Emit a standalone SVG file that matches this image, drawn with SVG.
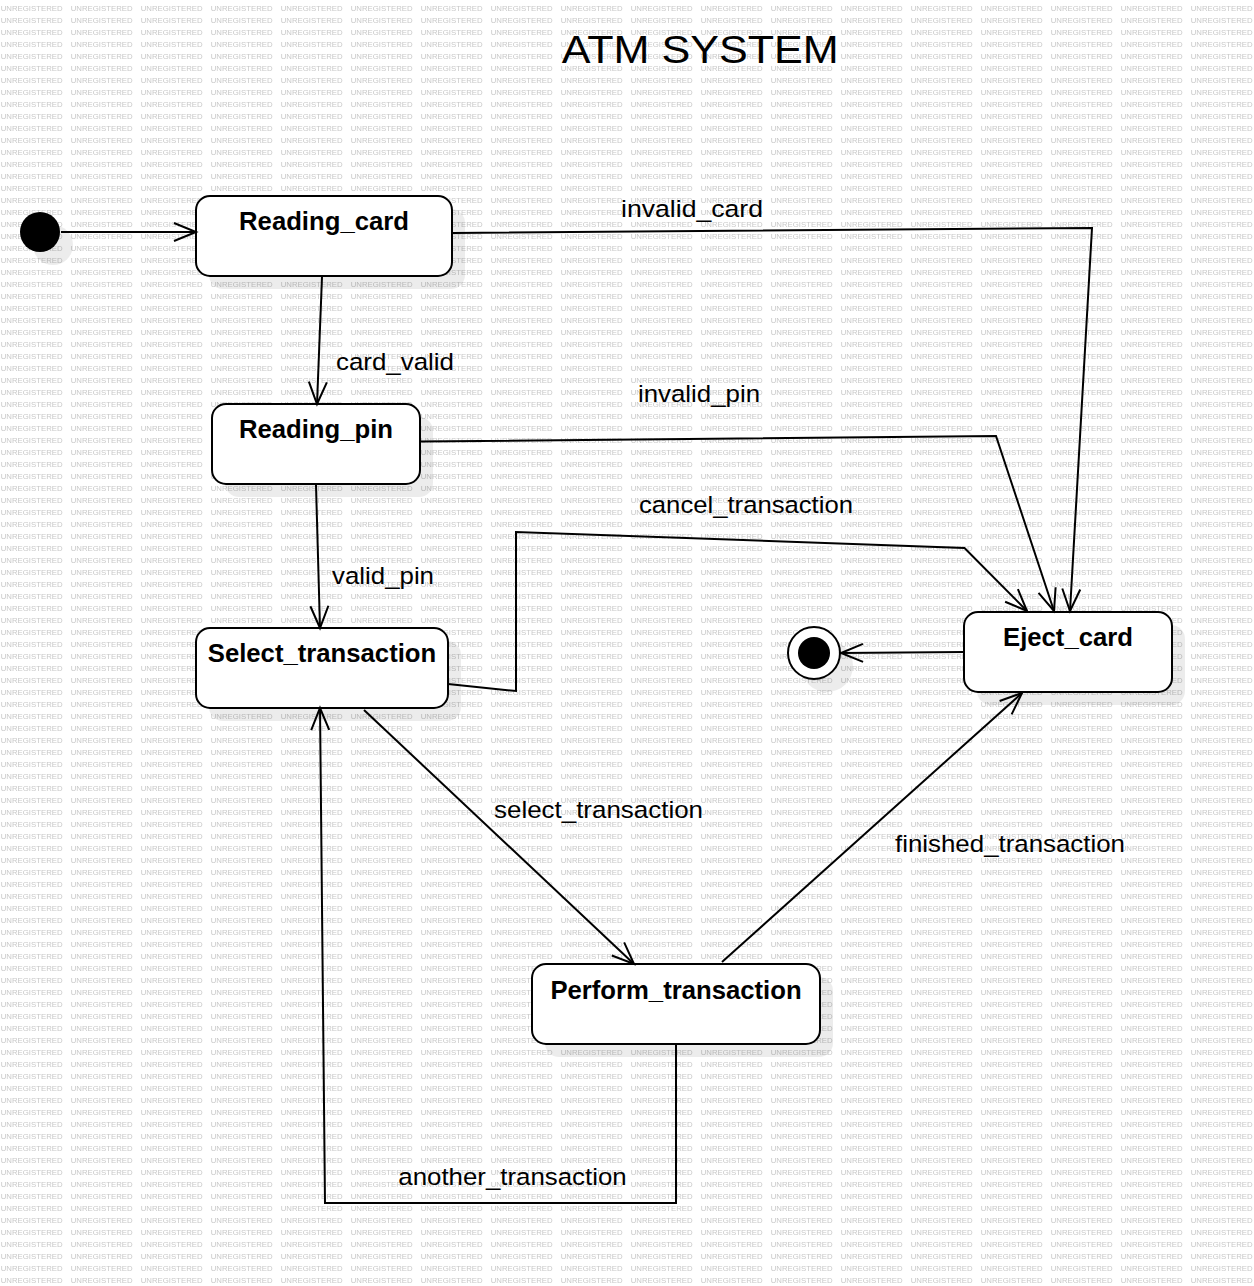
<svg xmlns="http://www.w3.org/2000/svg" width="1254" height="1286" viewBox="0 0 1254 1286">
  <style>
    .node { fill: #ffffff; stroke: #000000; stroke-width: 2; }
    .shadow { fill: #000000; fill-opacity: 0.075; }
    .ntxt { font-family: "Liberation Sans", Arial, sans-serif; font-weight: bold; font-size: 25.7px; fill: #000000; text-anchor: middle; }
    .ltxt { font-family: "Liberation Sans", Arial, sans-serif; font-size: 24.5px; fill: #000000; }
    .edge { fill: none; stroke: #000000; stroke-width: 2; marker-end: url(#arr); }
    .wm { font-family: "Liberation Sans", Arial, sans-serif; font-size: 7.4px; fill: #c8c8c8; }
  </style>
  <defs>
    <pattern id="wmp" x="0" y="0" width="70" height="12" patternUnits="userSpaceOnUse">
      <text class="wm" x="0.7" y="11" textLength="62" lengthAdjust="spacingAndGlyphs">UNREGISTERED</text>
    </pattern>
    <marker id="arr" markerUnits="userSpaceOnUse" markerWidth="30" markerHeight="30" viewBox="-25 -15 30 30" refX="0" refY="0" orient="auto" overflow="visible">
      <path d="M-22,-9 L0,0 L-22,9" fill="none" stroke="#000000" stroke-width="2"/>
    </marker>
  </defs>

  <rect x="0" y="0" width="1254" height="1286" fill="#ffffff"/>
  <rect x="0" y="0" width="1254" height="1286" fill="url(#wmp)"/>

  <text x="561.7" y="63" font-family="Liberation Sans, Arial, sans-serif" font-size="39" textLength="277" lengthAdjust="spacingAndGlyphs" fill="#000000">ATM SYSTEM</text>

  <g id="shadows">
    <circle class="shadow" cx="53" cy="245" r="20"/>
    <rect class="shadow" x="209" y="209" width="256" height="80" rx="14"/>
    <rect class="shadow" x="225" y="417" width="208" height="80" rx="14"/>
    <rect class="shadow" x="209" y="641" width="252" height="80" rx="14"/>
    <rect class="shadow" x="977" y="625" width="208" height="80" rx="14"/>
    <rect class="shadow" x="545" y="977" width="288" height="80" rx="14"/>
    <circle class="shadow" cx="827" cy="666" r="26"/>
  </g>

  <g id="initial">
    <circle cx="40" cy="232" r="20" fill="#000000"/>
  </g>

  <g id="reading_card">
    <rect class="node" x="196" y="196" width="256" height="80" rx="14"/>
    <text class="ntxt" x="324" y="230">Reading_card</text>
  </g>

  <g id="reading_pin">
    <rect class="node" x="212" y="404" width="208" height="80" rx="14"/>
    <text class="ntxt" x="316" y="438">Reading_pin</text>
  </g>

  <g id="select_transaction">
    <rect class="node" x="196" y="628" width="252" height="80" rx="14"/>
    <text class="ntxt" x="322" y="662">Select_transaction</text>
  </g>

  <g id="eject_card">
    <rect class="node" x="964" y="612" width="208" height="80" rx="14"/>
    <text class="ntxt" x="1068" y="646">Eject_card</text>
  </g>

  <g id="perform_transaction">
    <rect class="node" x="532" y="964" width="288" height="80" rx="14"/>
    <text class="ntxt" x="676" y="999">Perform_transaction</text>
  </g>

  <g id="final">
    <circle cx="814" cy="653" r="26" fill="#ffffff" stroke="#000000" stroke-width="2"/>
    <circle cx="814" cy="653" r="16" fill="#000000"/>
  </g>

  <g id="connectors">
    <path class="edge" d="M61,232 L196,232"/>
    <path class="edge" d="M322,277 L317,404"/>
    <path class="edge" d="M453,233 L1092,228 L1070,611"/>
    <path class="edge" d="M421,441.5 L996,436 L1054,611"/>
    <path class="edge" d="M316,485 L320,628"/>
    <path class="edge" d="M448,684 L516,691 L516,532 L964.5,548 L1027,611"/>
    <path class="edge" d="M964,652 L841,653"/>
    <path class="edge" d="M364,710 L634,964"/>
    <path class="edge" d="M722,962 L1022,693"/>
    <path class="edge" d="M676,1045 L676,1203 L325,1203 L320,708"/>
  </g>

  <g id="labels">
    <text class="ltxt" x="621" y="217" textLength="142" lengthAdjust="spacingAndGlyphs">invalid_card</text>
    <text class="ltxt" x="336" y="370" textLength="118" lengthAdjust="spacingAndGlyphs">card_valid</text>
    <text class="ltxt" x="638" y="402" textLength="122" lengthAdjust="spacingAndGlyphs">invalid_pin</text>
    <text class="ltxt" x="639" y="513" textLength="214" lengthAdjust="spacingAndGlyphs">cancel_transaction</text>
    <text class="ltxt" x="332" y="584" textLength="102" lengthAdjust="spacingAndGlyphs">valid_pin</text>
    <text class="ltxt" x="494" y="818" textLength="209" lengthAdjust="spacingAndGlyphs">select_transaction</text>
    <text class="ltxt" x="895" y="852" textLength="230" lengthAdjust="spacingAndGlyphs">finished_transaction</text>
    <text class="ltxt" x="398.3" y="1185" textLength="228.4" lengthAdjust="spacingAndGlyphs">another_transaction</text>
  </g>
</svg>
